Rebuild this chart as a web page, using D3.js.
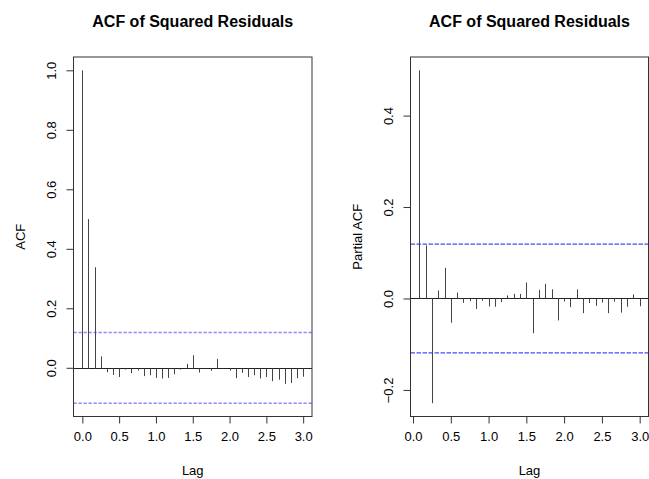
<!DOCTYPE html>
<html>
<head>
<meta charset="utf-8">
<script src="https://cdn.jsdelivr.net/npm/d3@7"></script>
<style>
  body { margin: 0; background: #fff; }
  svg text { font-family: "Liberation Sans", Arial, sans-serif; fill: #000; }
</style>
</head>
<body>
<div id="chart"></div>
<script>
// data
const lagStep = 1 / 12;
const acfValues = [1.0, 0.5, 0.338, 0.038, -0.015, -0.024, -0.031, -0.006, -0.018, -0.009,
  -0.028, -0.025, -0.034, -0.036, -0.034, -0.022, -0.006, 0.013, 0.042, -0.016,
  -0.004, -0.010, 0.030, -0.001, -0.009, -0.035, -0.017, -0.031, -0.025, -0.036,
  -0.031, -0.045, -0.040, -0.054, -0.051, -0.035, -0.030];
const pacfValues = [0.499, 0.116, -0.229, 0.0175, 0.067, -0.053, 0.013, -0.0095, -0.006, -0.023,
  -0.005, -0.0175, -0.018, -0.008, 0.0066, 0.010, 0.010, 0.035, -0.076, 0.019,
  0.032, 0.020, -0.048, -0.0066, -0.019, 0.020, -0.032, -0.010, -0.016, -0.009,
  -0.032, -0.007, -0.031, -0.018, 0.009, -0.017];
const ciBound = 0.119;
const xTicks = [0, 0.5, 1, 1.5, 2, 2.5, 3];
const acfYTicks = [0, 0.2, 0.4, 0.6, 0.8, 1.0];
const pacfYTicks = [-0.2, 0, 0.2, 0.4];
const titles = ["ACF of Squared Residuals", "ACF of Squared Residuals"];
const yTitles = ["ACF", "Partial ACF"];
const xTitle = "Lag";

const [width, height] = [649, 479];
const tickLen = 7;

const svg = d3.select("#chart").append("svg")
  .attr("width", width)
  .attr("height", height);

// R style: extend range by 4%
const padRange = (lo, hi) => {
  const d = (hi - lo) * 0.04;
  return [lo - d, hi + d];
};

const drawPanel = (p) => {
  const lags = p.values.map((v, i) => (i + p.firstLag) * lagStep);
  const xScale = d3.scaleLinear()
    .domain(padRange(d3.min(lags), d3.max(lags)))
    .range([p.left, p.right]);
  const yScale = d3.scaleLinear()
    .domain(padRange(Math.min(-ciBound, d3.min(p.values)), Math.max(ciBound, d3.max(p.values))))
    .range([p.bottom, p.top]);

  const g = svg.append("g");

  // ci lines
  [ciBound, -ciBound].forEach(c => {
    g.append("line")
      .attr("x1", p.left).attr("x2", p.right)
      .attr("y1", yScale(c)).attr("y2", yScale(c))
      .attr("stroke", p.ciColor)
      .attr("stroke-width", p.ciWidth)
      .attr("stroke-dasharray", p.ciDash);
  });

  // zero line
  g.append("line")
    .attr("x1", p.left).attr("x2", p.right)
    .attr("y1", Math.round(yScale(0)) + 0.5).attr("y2", Math.round(yScale(0)) + 0.5)
    .attr("stroke", "#222");

  // spikes
  g.selectAll("line.spike")
    .data(p.values)
    .enter()
    .append("line")
    .attr("class", "spike")
    .attr("x1", (d, i) => Math.round(xScale(lags[i])) + 0.5)
    .attr("x2", (d, i) => Math.round(xScale(lags[i])) + 0.5)
    .attr("y1", Math.round(yScale(0)) + 0.5)
    .attr("y2", d => yScale(d))
    .attr("stroke", "#444")
    .attr("stroke-width", 1);

  // box
  g.append("rect")
    .attr("x", p.left).attr("y", p.top)
    .attr("width", p.right - p.left).attr("height", p.bottom - p.top)
    .attr("fill", "none")
    .attr("stroke", "#333");

  // x axis
  const xAxis = g.append("g")
    .attr("transform", "translate(0," + p.bottom + ")")
    .call(d3.axisBottom(xScale).tickValues(xTicks).tickSize(tickLen).tickSizeOuter(0)
      .tickFormat(d3.format(".1f")).tickPadding(8));
  xAxis.select(".domain").remove();
  xAxis.selectAll("line").attr("stroke", "#333");
  xAxis.selectAll("text")
    .attr("font-size", 13)
    .attr("font-family", "Liberation Sans, Arial, sans-serif")
    .attr("fill", "#000");

  // y axis with rotated labels
  const yAxis = g.append("g")
    .attr("transform", "translate(" + p.left + ",0)")
    .call(d3.axisLeft(yScale).tickValues(p.yTicks).tickSize(tickLen).tickSizeOuter(0)
      .tickFormat(d3.format(".1f")));
  yAxis.select(".domain").remove();
  yAxis.selectAll("line").attr("stroke", "#333");
  yAxis.selectAll("text")
    .attr("font-size", 13)
    .attr("font-family", "Liberation Sans, Arial, sans-serif")
    .attr("fill", "#000")
    .attr("text-anchor", "middle")
    .attr("transform", "rotate(-90)")
    .attr("x", 0)
    .attr("y", -18)
    .attr("dy", 0);

  // titles
  g.append("text")
    .attr("x", (p.left + p.right) / 2)
    .attr("y", 26.5)
    .attr("text-anchor", "middle")
    .attr("font-size", 16)
    .attr("font-weight", "bold")
    .text(p.title);

  g.append("text")
    .attr("x", (p.left + p.right) / 2)
    .attr("y", 475)
    .attr("text-anchor", "middle")
    .attr("font-size", 13)
    .text(xTitle);

  g.append("text")
    .attr("transform", "translate(" + (p.left - 49) + "," + (p.top + p.bottom) / 2 + ") rotate(-90)")
    .attr("text-anchor", "middle")
    .attr("font-size", 13)
    .text(p.yTitle);
};

drawPanel({
  values: acfValues, firstLag: 0, yTicks: acfYTicks,
  left: 73.5, right: 312, top: 57, bottom: 416.5,
  title: titles[0], yTitle: yTitles[0],
  ciColor: "#8c8cff", ciWidth: 1.5, ciDash: "3.3,1.7"
});

drawPanel({
  values: pacfValues, firstLag: 1, yTicks: pacfYTicks,
  left: 410.5, right: 648.5, top: 57, bottom: 416.5,
  title: titles[1], yTitle: yTitles[1],
  ciColor: "#4a4aff", ciWidth: 1.2, ciDash: "4.5,1.5"
});
</script>
</body>
</html>
